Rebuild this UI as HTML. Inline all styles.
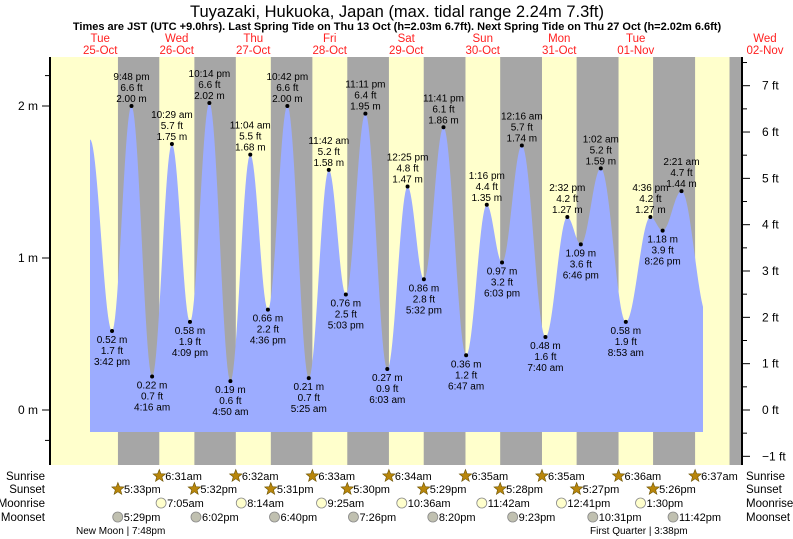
<!DOCTYPE html>
<html><head><meta charset="utf-8"><style>
body{margin:0;background:#fff;}
svg{display:block;font-family:"Liberation Sans",sans-serif;}
</style></head><body>
<svg id="c" width="793" height="539" viewBox="0 0 793 539">
<text x="397" y="17" text-anchor="middle" font-size="16.5">Tuyazaki, Hukuoka, Japan (max. tidal range 2.24m 7.3ft)</text>
<text x="397" y="30" text-anchor="middle" font-size="11" font-weight="bold">Times are JST (UTC +9.0hrs). Last Spring Tide on Thu 13 Oct (h=2.03m 6.7ft). Next Spring Tide on Thu 27 Oct (h=2.02m 6.6ft)</text>
<g id="bands"></g><g id="tide"></g><g id="axes"></g><g id="labels"></g><g id="rows"></g>
</svg>
<script>
const dayNames=["Tue","Wed","Thu","Fri","Sat","Sun","Mon","Tue","Wed"];
const dayDates=["25-Oct","26-Oct","27-Oct","28-Oct","29-Oct","30-Oct","31-Oct","01-Nov","02-Nov"];
const tideDays=[0,0,1,1,1,1,2,2,2,2,3,3,3,3,4,4,4,4,5,5,5,6,6,6,6,7,7,7,7,8];
const tideTimes=["3:42 pm","9:48 pm","4:16 am","10:29 am","4:09 pm","10:14 pm","4:50 am","11:04 am","4:36 pm","10:42 pm","5:25 am","11:42 am","5:03 pm","11:11 pm","6:03 am","12:25 pm","5:32 pm","11:41 pm","6:47 am","1:16 pm","6:03 pm","12:16 am","7:40 am","2:32 pm","6:46 pm","1:02 am","8:53 am","4:36 pm","8:26 pm","2:21 am"];
const tideHeights=[0.52,2.00,0.22,1.75,0.58,2.02,0.19,1.68,0.66,2.00,0.21,1.58,0.76,1.95,0.27,1.47,0.86,1.86,0.36,1.35,0.97,1.74,0.48,1.27,1.09,1.59,0.58,1.27,1.18,1.44];
const sunriseDays=[1,2,3,4,5,6,7,8];
const sunriseTimes=["6:31am","6:32am","6:33am","6:34am","6:35am","6:35am","6:36am","6:37am"];
const sunsetDays=[0,1,2,3,4,5,6,7,8];
const sunsetTimes=["5:33pm","5:32pm","5:31pm","5:30pm","5:29pm","5:28pm","5:27pm","5:26pm","5:25pm"];
const moonriseDays=[1,2,3,4,5,6,7];
const moonriseTimes=["7:05am","8:14am","9:25am","10:36am","11:42am","12:41pm","1:30pm"];
const moonsetDays=[0,1,2,3,4,5,6,7];
const moonsetTimes=["5:29pm","6:02pm","6:40pm","7:26pm","8:20pm","9:23pm","10:31pm","11:42pm"];

const NS="http://www.w3.org/2000/svg";
const X0=62,DAY=76.5,L=50,R=742,T=57,B=465,Y0=410,PM=152;
function hrs(s){const m=s.match(/(\d+):(\d+)\s*(am|pm)/);let h=+m[1]%12;if(m[3]=="pm")h+=12;return h+ +m[2]/60;}
function tx(d,s){return X0+(d+hrs(s)/24)*DAY;}
function txh(d,h){return X0+(d+h/24)*DAY;}
function ty(m){return Y0-m*PM;}
function el(tag,attrs,parent,text){const e=document.createElementNS(NS,tag);for(const k in attrs)e.setAttribute(k,attrs[k]);if(text!==undefined)e.textContent=text;parent.appendChild(e);return e;}
const bands=document.getElementById('bands'),tide=document.getElementById('tide'),axes=document.getElementById('axes'),labels=document.getElementById('labels'),rows=document.getElementById('rows');
let bg=el('rect',{x:L,y:T,width:R-L,height:B-T,fill:'#ffffcc'},bands);


for(let i=0;i<sunsetDays.length;i++){
  const x1=tx(sunsetDays[i],sunsetTimes[i]);
  let x2=R;
  const j=sunriseDays.indexOf(sunsetDays[i]+1);
  if(j>=0)x2=tx(sunriseDays[j],sunriseTimes[j]);
  const r=el('rect',{x:x1,y:T,width:Math.min(x2,R)-x1,height:B-T,fill:'#a6a6a6'},bands);
  
  
}
for(let i=0;i<dayNames.length;i++){
  let x=X0+(i+0.5)*DAY; if(i==dayNames.length-1)x=765;
  const t1=el('text',{x:x,y:42,'text-anchor':'middle','font-size':'11.5',fill:'#ff2020'},labels,dayNames[i]);
  
  
  const t2=el('text',{x:x,y:54,'text-anchor':'middle','font-size':'11.5',fill:'#ff2020'},labels,dayDates[i]);
  
  
}
const pts=[[txh(0,8.8),1.78]];
for(let i=0;i<tideTimes.length;i++)pts.push([tx(tideDays[i],tideTimes[i]),tideHeights[i]]);
pts.push([txh(8,10.5),0.62]);
const xEnd=703;
let d=`M${pts[0][0].toFixed(1)},432 `;
for(let i=0;i<pts.length-1;i++){
  const [xa,ha]=pts[i],[xb,hb]=pts[i+1];
  for(let x=xa;x<xb;x+=1){ if(x>xEnd)break; const f=(1-Math.cos(Math.PI*(x-xa)/(xb-xa)))/2; d+=`L${x.toFixed(1)},${ty(ha+(hb-ha)*f).toFixed(1)} `;}
}
{const i=pts.length-2;const [xa,ha]=pts[i],[xb,hb]=pts[i+1];const f=(1-Math.cos(Math.PI*(xEnd-xa)/(xb-xa)))/2;d+=`L${xEnd},${ty(ha+(hb-ha)*f).toFixed(1)} L${xEnd},432 Z`;}
const area=el('path',{d:d,fill:'#9cacff'},tide);


for(let i=0;i<tideTimes.length;i++){
  const x=tx(tideDays[i],tideTimes[i]),y=ty(tideHeights[i]);
  const ref=i<tideHeights.length-1?tideHeights[i+1]:tideHeights[i-1];
  const hi=tideHeights[i]>ref;
  const dot=el('circle',{cx:x,cy:y,r:2,fill:'#000'},labels);
  
  
  const m=tideHeights[i].toFixed(2)+' m',ft=(tideHeights[i]*3.28084).toFixed(1)+' ft';
  const lines=hi?[[tideTimes[i],-26],[ft,-15],[m,-4]]:[[m,12],[ft,23],[tideTimes[i],34]];
  for(const [s,o] of lines){
    const t=el('text',{x:x,y:y+o,'text-anchor':'middle','font-size':'10',fill:'#000'},labels,s);
    
    
  }
}
const la=el('line',{x1:L,y1:T,x2:L,y2:B,stroke:'#000','stroke-width':2},axes);


const ra=el('line',{x1:R,y1:T,x2:R,y2:B,stroke:'#000','stroke-width':2},axes);


const mTicks=[-0.2,0,1,2,2.2];
for(const v of mTicks){
  const major=Math.abs(v-Math.round(v))<1e-6;
  el('line',{x1:L-(major?8:5),y1:ty(v),x2:L,y2:ty(v),stroke:'#000'},axes);
  if(major){const t=el('text',{x:L-12,y:ty(v)+4,'text-anchor':'end','font-size':'12'},axes,v+' m');
    
    }
}
for(let f=-1;f<=7.5;f+=0.5){
  const y=Y0-f*0.3048*PM; if(y<T)continue;
  const major=Number.isInteger(f);
  el('line',{x1:R,y1:y,x2:R+(major?8:5),y2:y,stroke:'#000'},axes);
  if(major){const t=el('text',{x:R+20,y:y+4,'font-size':'12'},axes,(f<0?'\u2212'+(-f):f)+' ft');
    
    }
}
const rowY=[480,493,507,521];
const rowNames=["Sunrise","Sunset","Moonrise","Moonset"];
rowNames.forEach((n,i)=>{
  const a=el('text',{x:45,y:rowY[i],'text-anchor':'end','font-size':'11.5'},rows,n);
  
  
  const b=el('text',{x:746,y:rowY[i],'font-size':'11.5'},rows,n);
  
  
});
function star(cx,cy){let p='';for(let k=0;k<10;k++){const r=k%2?2.8:6.5,a=-Math.PI/2+k*Math.PI/5;p+=(cx+r*Math.cos(a)).toFixed(1)+','+(cy+r*Math.sin(a)).toFixed(1)+' ';}return p;}
function addRow(days,times,ri,kind){
  for(let i=0;i<days.length;i++){
    const x=tx(days[i],times[i]);if(x>R)continue;const cy=rowY[ri]-4;
    let ic;
    if(kind=='sun')ic=el('polygon',{points:star(x,cy),fill:'#b8860b',stroke:'#6b5200','stroke-width':0.6},rows);
    else ic=el('circle',{cx:x,cy:cy,r:5,fill:kind=='mr'?'#ffffcc':'#c0c0b0',stroke:'#888','stroke-width':0.8},rows);
    
    
    const t=el('text',{x:x+6,y:rowY[ri],'font-size':'11'},rows,times[i]);
    
    
  }
}
addRow(sunriseDays,sunriseTimes,0,'sun');
addRow(sunsetDays.slice(0,8),sunsetTimes.slice(0,8),1,'sun');
addRow(moonriseDays,moonriseTimes,2,'mr');
addRow(moonsetDays,moonsetTimes,3,'ms');
const p1=el('text',{x:76,y:534,'font-size':'10'},rows,'New Moon | 7:48pm');


const p2=el('text',{x:590,y:534,'font-size':'10'},rows,'First Quarter | 3:38pm');


</script>
</body></html>
